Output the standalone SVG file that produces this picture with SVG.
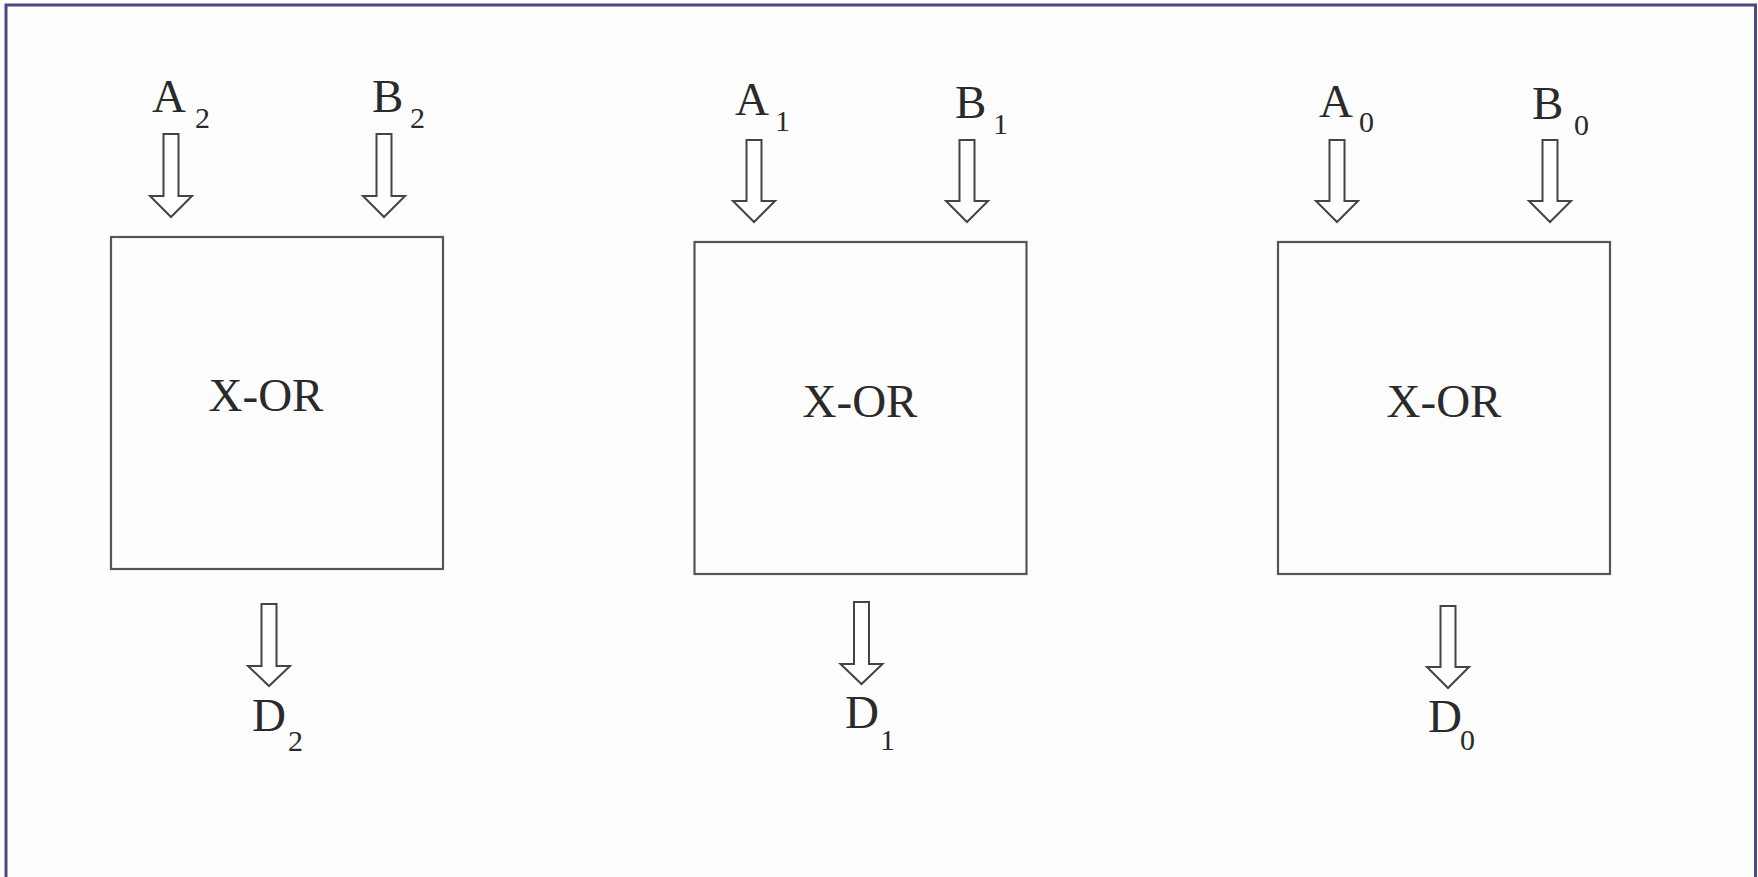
<svg xmlns="http://www.w3.org/2000/svg" width="1758" height="877" viewBox="0 0 1758 877">
<style>
.box{fill:none;stroke:#555;stroke-width:2.2}
.arr{fill:#fff;stroke:#444;stroke-width:2}
.lbl{font-family:"Liberation Serif","Times New Roman",serif;font-size:47px;fill:#2a2a2a}
.sub{font-size:30px}
</style>
<rect x="0" y="0" width="1758" height="877" fill="#fdfdfd"/>
<rect x="6" y="5" width="1749.5" height="880" fill="none" stroke="#4b4b80" stroke-width="3"/>
<g id="connectors">
<path class="arr" d="M163.5,134 h15 v62 h13.5 l-21,21 l-21,-21 h13.5 z"/>
<path class="arr" d="M376.5,134 h15 v62 h13.5 l-21,21 l-21,-21 h13.5 z"/>
<path class="arr" d="M746.5,140 h15 v61 h13.5 l-21,21 l-21,-21 h13.5 z"/>
<path class="arr" d="M959.5,140 h15 v61 h13.5 l-21,21 l-21,-21 h13.5 z"/>
<path class="arr" d="M1329.5,140 h15 v61 h13.5 l-21,21 l-21,-21 h13.5 z"/>
<path class="arr" d="M1542.5,140 h15 v61 h13.5 l-21,21 l-21,-21 h13.5 z"/>
<path class="arr" d="M261.5,604 h15 v62 h13.5 l-21,20 l-21,-20 h13.5 z"/>
<path class="arr" d="M854,602 h15 v62 h13.5 l-21,20 l-21,-20 h13.5 z"/>
<path class="arr" d="M1440.5,606 h15 v61 h13.5 l-21,21 l-21,-21 h13.5 z"/>
</g>
<g id="xor2">
<rect class="box" x="111" y="237" width="332" height="332"/>
<text class="lbl" x="266" y="411" text-anchor="middle">X-OR</text>
</g>
<g id="xor1">
<rect class="box" x="694.5" y="242" width="332" height="332"/>
<text class="lbl" x="860" y="417" text-anchor="middle">X-OR</text>
</g>
<g id="xor0">
<rect class="box" x="1278" y="242" width="332" height="332"/>
<text class="lbl" x="1444" y="417" text-anchor="middle">X-OR</text>
</g>
<g id="labels">
<text class="lbl"><tspan x="152" y="112">A</tspan><tspan class="sub" x="195" y="128">2</tspan></text>
<text class="lbl"><tspan x="372" y="112">B</tspan><tspan class="sub" x="410" y="128">2</tspan></text>
<text class="lbl"><tspan x="735" y="115">A</tspan><tspan class="sub" x="775" y="131">1</tspan></text>
<text class="lbl"><tspan x="955" y="118">B</tspan><tspan class="sub" x="993" y="134">1</tspan></text>
<text class="lbl"><tspan x="1319" y="117">A</tspan><tspan class="sub" x="1359" y="132">0</tspan></text>
<text class="lbl"><tspan x="1532" y="119">B</tspan><tspan class="sub" x="1574" y="135">0</tspan></text>
<text class="lbl"><tspan x="252" y="731">D</tspan><tspan class="sub" x="288" y="751">2</tspan></text>
<text class="lbl"><tspan x="845" y="728">D</tspan><tspan class="sub" x="880" y="750">1</tspan></text>
<text class="lbl"><tspan x="1428" y="732">D</tspan><tspan class="sub" x="1460" y="750">0</tspan></text>
</g>
</svg>
